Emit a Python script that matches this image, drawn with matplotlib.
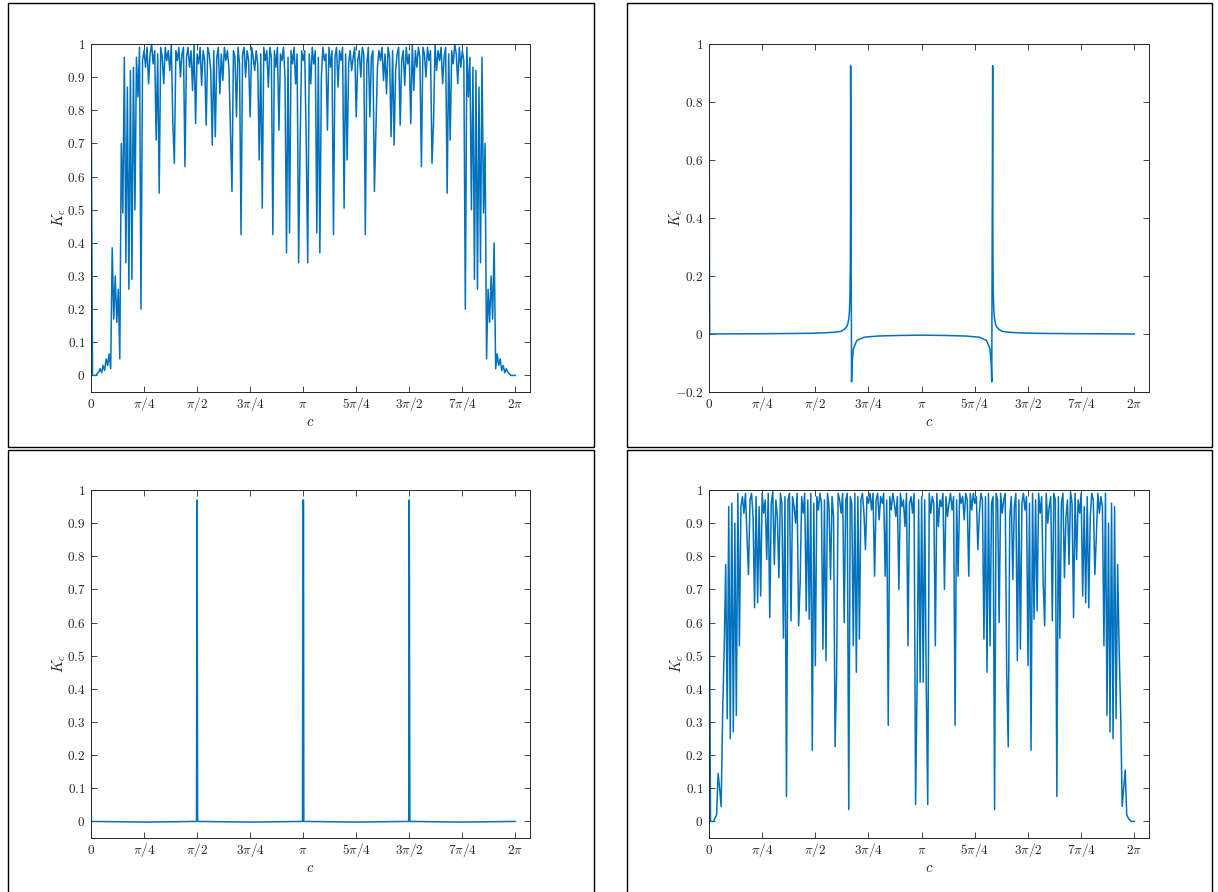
import numpy as np
import matplotlib
matplotlib.use('Agg')
import matplotlib.pyplot as plt
from matplotlib.patches import Rectangle

plt.rcParams['mathtext.fontset'] = 'cm'
plt.rcParams['font.family'] = 'serif'
plt.rcParams['font.serif'] = ['cmr10', 'DejaVu Serif']
plt.rcParams['axes.formatter.use_mathtext'] = True

# K_c sampled on a uniform grid over [0, 2pi] (first panel)
k1 = [0.97, 0.0, 0.0, 0.0, 0.005, 0.01, 0.02, 0.008, 0.03, 0.015,
      0.05, 0.03, 0.065, 0.02, 0.385, 0.17, 0.30, 0.16, 0.26, 0.05,
      0.70, 0.49, 0.96, 0.34, 0.87, 0.26, 0.92, 0.29, 0.93, 0.50,
      0.96, 0.84, 0.99, 0.20, 0.95, 0.98, 0.93, 0.99, 0.88, 0.97,
      1.0, 0.94, 0.98, 0.71, 0.97, 0.55, 0.99, 0.96, 0.88, 0.99,
      0.95, 0.98, 0.92, 1.0, 0.76, 0.64, 0.98, 0.95, 0.99, 0.90,
      0.97, 0.99, 0.63, 0.96, 0.99, 0.93, 0.98, 0.86, 1.0, 0.76,
      0.97, 0.94, 0.99, 0.875, 0.98, 0.95, 0.755, 0.99, 0.97, 0.92,
      0.695, 0.98, 0.72, 0.96, 0.99, 0.85, 0.97, 0.89, 0.99, 0.95,
      0.98, 0.93, 0.745, 0.555, 0.98, 0.96, 0.78, 0.99, 0.94, 0.425,
      0.97, 0.99, 0.90, 0.98, 0.95, 0.78, 0.99, 0.96, 0.92, 0.98,
      0.94, 0.65, 0.97, 0.505, 0.99, 0.95, 0.98, 0.87, 0.99, 0.96,
      0.425, 0.98, 0.93, 0.99, 0.74, 0.97, 0.95, 0.99, 0.90, 0.37,
      0.96, 0.43, 0.98, 0.94, 0.99, 0.88, 0.97, 0.34, 0.71, 0.98,
      0.95,
      0.98, 0.71, 0.34, 0.97, 0.88, 0.99, 0.94, 0.98, 0.43, 0.96,
      0.37, 0.90, 0.99, 0.95, 0.97, 0.74, 0.99, 0.93, 0.98, 0.425,
      0.96, 0.99, 0.87, 0.98, 0.95, 0.99, 0.505, 0.97, 0.65, 0.94,
      0.98, 0.92, 0.96, 0.99, 0.78, 0.95, 0.98, 0.90, 0.99, 0.97,
      0.425, 0.94, 0.99, 0.78, 0.96, 0.98, 0.555, 0.745, 0.93, 0.98,
      0.95, 0.99, 0.89, 0.97, 0.85, 0.99, 0.96, 0.72, 0.98, 0.695,
      0.92, 0.97, 0.99, 0.755, 0.95, 0.98, 0.875, 0.99, 0.94, 0.97,
      0.76, 1.0, 0.86, 0.98, 0.93, 0.99, 0.96, 0.63, 0.99, 0.97,
      0.90, 0.99, 0.95, 0.98, 0.64, 0.76, 1.0, 0.92, 0.98, 0.95,
      0.99, 0.88, 0.96, 0.99, 0.55, 0.97, 0.71, 0.98, 0.94, 1.0,
      0.97, 0.88, 0.99, 0.93, 0.98, 0.95, 0.20, 0.99, 0.84, 0.96,
      0.50, 0.93, 0.29, 0.92, 0.26, 0.87, 0.34, 0.96, 0.49, 0.70,
      0.05, 0.26, 0.16, 0.30, 0.17, 0.40, 0.02, 0.065, 0.03, 0.05,
      0.015, 0.03, 0.008, 0.02, 0.01, 0.005, 0.0, 0.0, 0.0, 0.0]

# second panel: two sharp resonances near 2pi/3 and 4pi/3
c2 = [0.0, 0.01, 0.3, 0.8, 1.2, 1.5, 1.7, 1.85, 1.95, 2.0,
      2.03, 2.05, 2.065, 2.075, 2.083, 2.088, 2.0905, 2.0923, 2.106, 2.114,
      2.134, 2.184, 2.294, 2.494, 2.8, 3.1416, 3.483, 3.789, 3.989, 4.099,
      4.149, 4.169, 4.177, 4.1909, 4.1927, 4.1952, 4.2002, 4.2082, 4.2182, 4.2332,
      4.2532, 4.2832, 4.3332, 4.4332, 4.5832, 4.7832, 5.0832, 5.4832, 5.9832, 6.2732,
      6.2832]
k2 = [0.97, 0.0, 0.0005, 0.001, 0.0017, 0.0025, 0.004, 0.006, 0.009, 0.016,
      0.024, 0.034, 0.052, 0.079, 0.14, 0.25, 0.41, 0.925, -0.165, -0.1,
      -0.05, -0.022, -0.011, -0.007, -0.005, -0.004, -0.005, -0.007, -0.011, -0.022,
      -0.05, -0.1, -0.165, 0.925, 0.41, 0.25, 0.14, 0.079, 0.052, 0.034,
      0.024, 0.016, 0.009, 0.006, 0.004, 0.0025, 0.0017, 0.001, 0.0005, 0.0,
      0.0]

# third panel: narrow peaks at multiples of pi/2
c3 = [0.0, 0.004, 0.4, 0.785, 1.2, 1.562, 1.5708, 1.579, 1.95, 2.356,
      2.75, 3.132, 3.1366, 3.1466, 3.151, 3.55, 3.927, 4.3, 4.704, 4.7124,
      4.721, 5.1, 5.498, 5.9, 6.2832]
k3 = [0.97, 0.0, -0.001, -0.002, -0.001, 0.0, 0.97, 0.0, -0.001, -0.002,
      -0.001, 0.0, 0.97, 0.97, 0.0, -0.001, -0.002, -0.001, 0.0, 0.97,
      0.0, -0.001, -0.002, -0.001, 0.0]

# fourth panel, uniform grid like the first
k4 = [0.97, 0.0, 0.0, 0.0, 0.01, 0.02, 0.145, 0.10, 0.045, 0.33,
      0.52, 0.775, 0.31, 0.95, 0.25, 0.96, 0.27, 0.90, 0.32, 0.99,
      0.53, 0.95, 0.98, 0.93, 0.99, 0.86, 0.745, 0.97, 0.99, 0.92,
      0.645, 0.98, 0.66, 0.95, 0.68, 0.99, 0.93, 0.97, 0.79, 0.99,
      0.615, 0.96, 0.995, 0.775, 0.97, 0.92, 0.735, 0.99, 0.96, 0.553,
      0.98, 0.075, 0.97, 0.99, 0.605, 0.98, 0.95, 0.90, 0.99, 0.59,
      0.72, 0.98, 0.93, 0.99, 0.635, 0.97, 0.61, 0.99, 0.215, 0.96,
      0.47, 0.98, 0.94, 0.99, 0.96, 0.52, 0.97, 0.485, 0.99, 0.95,
      0.73, 0.98, 0.92, 0.225, 0.445, 0.99, 0.97, 0.93, 0.99, 0.60,
      0.97, 0.99, 0.036, 0.98, 0.96, 0.53, 0.99, 0.45, 0.98, 0.55,
      0.97, 0.99, 0.93, 0.82, 0.98, 0.96, 0.99, 0.94, 0.99, 0.74,
      0.97, 0.99, 0.91, 0.98, 0.96, 0.99, 0.74, 0.97, 0.29, 0.98,
      0.94, 0.99, 0.96, 0.92, 0.98, 0.70, 0.99, 0.95, 0.97, 0.89,
      0.99, 0.53, 0.96, 0.98, 0.93, 0.99, 0.051, 0.42, 0.97, 0.42,
      0.98,
      0.42, 0.97, 0.42, 0.051, 0.99, 0.93, 0.98, 0.96, 0.53, 0.99,
      0.89, 0.97, 0.95, 0.99, 0.70, 0.98, 0.92, 0.96, 0.99, 0.94,
      0.98, 0.29, 0.97, 0.74, 0.99, 0.96, 0.98, 0.91, 0.99, 0.97,
      0.74, 0.99, 0.94, 0.99, 0.96, 0.98, 0.82, 0.93, 0.99, 0.97,
      0.55, 0.98, 0.45, 0.99, 0.53, 0.96, 0.98, 0.036, 0.99, 0.97,
      0.60, 0.99, 0.93, 0.97, 0.99, 0.445, 0.225, 0.92, 0.98, 0.73,
      0.95, 0.99, 0.485, 0.97, 0.52, 0.96, 0.99, 0.94, 0.98, 0.47,
      0.96, 0.215, 0.99, 0.61, 0.97, 0.635, 0.99, 0.93, 0.98, 0.72,
      0.59, 0.99, 0.90, 0.95, 0.98, 0.605, 0.99, 0.97, 0.075, 0.98,
      0.553, 0.96, 0.99, 0.735, 0.92, 0.97, 0.775, 0.995, 0.96, 0.615,
      0.99, 0.79, 0.97, 0.93, 0.99, 0.68, 0.95, 0.66, 0.98, 0.645,
      0.92, 0.99, 0.97, 0.745, 0.86, 0.99, 0.93, 0.98, 0.95, 0.53,
      0.99, 0.32, 0.90, 0.27, 0.96, 0.25, 0.95, 0.31, 0.775, 0.52,
      0.33, 0.045, 0.10, 0.155, 0.02, 0.01, 0.005, 0.0, 0.0, 0.0]

c1 = np.linspace(0, 2 * np.pi, len(k1))
c4 = np.linspace(0, 2 * np.pi, len(k4))

xticks = np.arange(9) * np.pi / 4
xtick_labels = [r'$0$', r'$\pi/4$', r'$\pi/2$', r'$3\pi/4$', r'$\pi$',
                r'$5\pi/4$', r'$3\pi/2$', r'$7\pi/4$', r'$2\pi$']
yticks_a = [0, 0.1, 0.2, 0.3, 0.4, 0.5, 0.6, 0.7, 0.8, 0.9, 1]
ylabels_a = [r'$0$', r'$0.1$', r'$0.2$', r'$0.3$', r'$0.4$', r'$0.5$',
             r'$0.6$', r'$0.7$', r'$0.8$', r'$0.9$', r'$1$']
yticks_b = [-0.2, 0, 0.2, 0.4, 0.6, 0.8, 1]
ylabels_b = [r'$-0.2$', r'$0$', r'$0.2$', r'$0.4$', r'$0.6$', r'$0.8$', r'$1$']

blue = '#0072BD'
dark = '#262626'

W, H = 1218, 892
fig = plt.figure(figsize=(W / 100, H / 100), dpi=100)


def px_axes(left, top, right, bottom):
    return fig.add_axes([left / W, 1 - bottom / H, (right - left) / W, (bottom - top) / H])


def style(ax, yt, yl, ylim, ylab_x):
    ax.set_xlim(0, 6.5)
    ax.set_ylim(*ylim)
    ax.set_xticks(xticks)
    ax.set_xticklabels(xtick_labels)
    ax.set_yticks(yt)
    ax.set_yticklabels(yl)
    ax.tick_params(direction='in', top=True, right=True, length=4, width=0.6,
                   color=dark, labelcolor=dark, labelsize=9.5)
    ax.tick_params(axis='x', pad=11.5)
    ax.tick_params(axis='y', pad=4)
    # keep x labels on a common baseline
    for lab in ax.get_xticklabels():
        lab.set_va('baseline')
    for s in ax.spines.values():
        s.set_color(dark)
        s.set_linewidth(0.7)
    ax.set_xlabel(r'$c$', fontsize=10.5, color=dark)
    ax.set_ylabel(r'$K_c$', fontsize=10.5, color=dark)
    ax.xaxis.set_label_coords(0.5, -0.068)
    ax.yaxis.set_label_coords(ylab_x, 0.5)


# frames around each sub-figure
for (l, t, r, b) in [(8, 3, 594, 447), (627, 3, 1212, 447),
                     (8, 450, 594, 900), (627, 450, 1212, 900)]:
    fig.add_artist(Rectangle((l / W, 1 - b / H), (r - l) / W, (b - t) / H,
                             transform=fig.transFigure, fill=False,
                             ec='black', lw=1.0))

ax1 = px_axes(91, 44, 530, 392)
ax1.plot(c1, k1, color=blue, lw=1.1)
style(ax1, yticks_a, ylabels_a, (-0.05, 1), -0.052)

ax2 = px_axes(709, 44, 1149, 392)
ax2.plot(c2, k2, color=blue, lw=1.1)
style(ax2, yticks_b, ylabels_b, (-0.2, 1), -0.0545)

ax3 = px_axes(91, 490, 530, 838)
ax3.plot(c3, k3, color=blue, lw=1.1)
style(ax3, yticks_a, ylabels_a, (-0.05, 1), -0.052)

ax4 = px_axes(709, 490, 1149, 838)
ax4.plot(c4, k4, color=blue, lw=1.1)
style(ax4, yticks_a, ylabels_a, (-0.05, 1), -0.052)

fig.savefig('out.png', dpi=100, facecolor='white')
